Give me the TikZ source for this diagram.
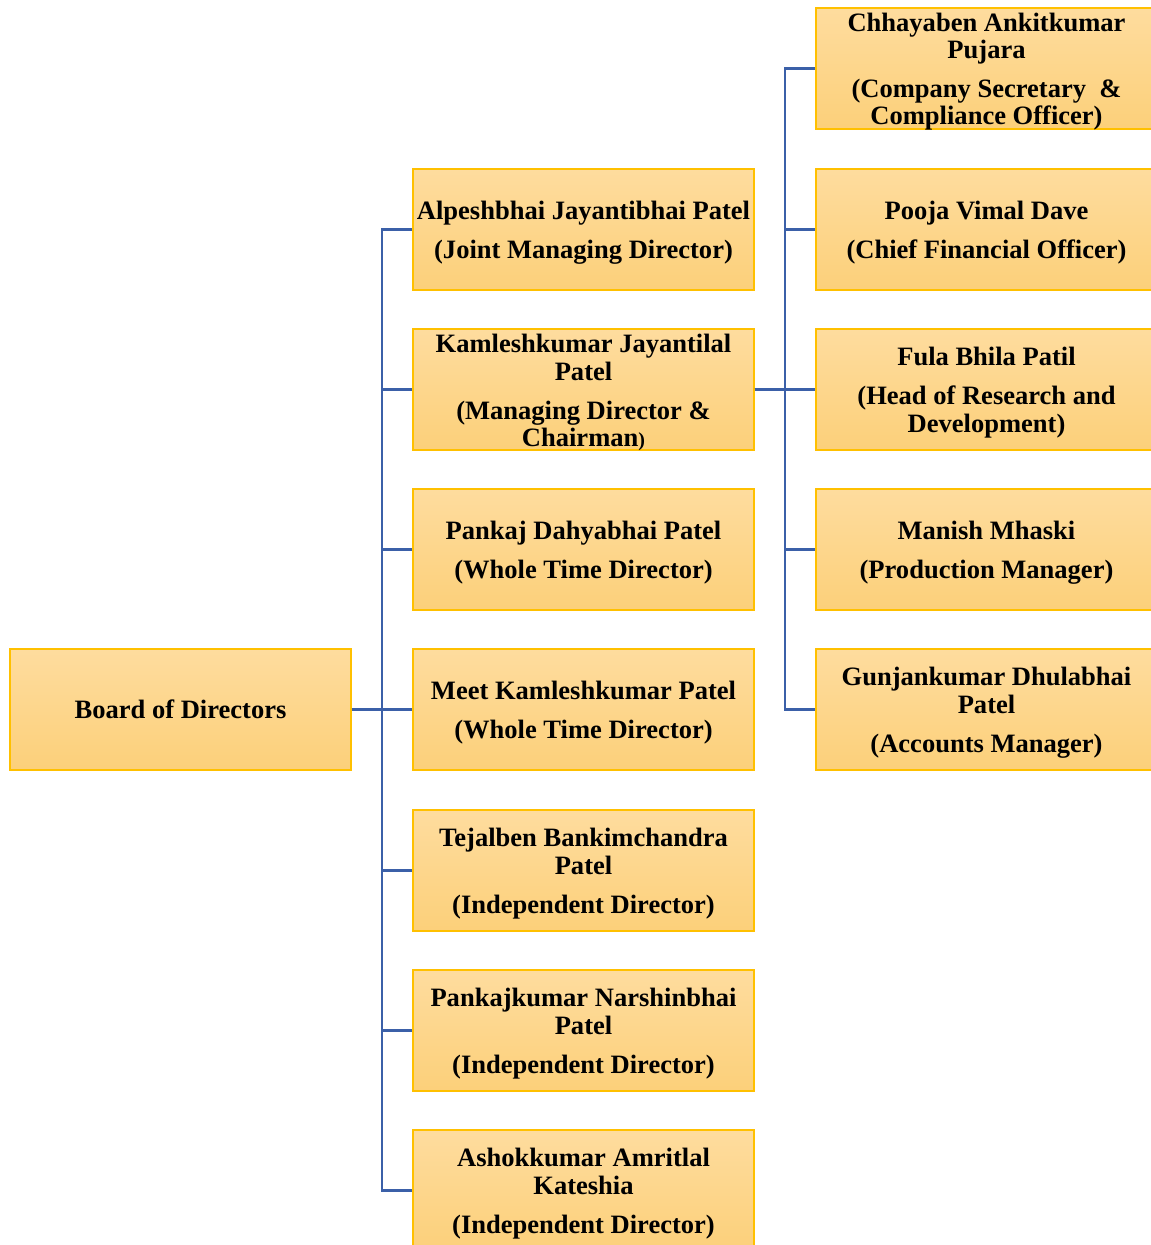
\documentclass[tikz,border=0pt]{standalone}
\usepackage{fontspec}
\setmainfont{Liberation Serif}
\definecolor{boxtop}{RGB}{254,220,158}
\definecolor{boxbot}{RGB}{252,208,122}
\definecolor{boxline}{RGB}{255,192,0}
\definecolor{conn}{RGB}{59,96,168}
\tikzset{
  orgbox/.style={rectangle, draw=boxline, line width=0.9pt, top color=boxtop, bottom color=boxbot,
    minimum width=255.75pt, minimum height=90.75pt, inner sep=0pt},
  orgtext/.style={inner sep=0pt, align=center, font=\fontsize{19.9}{20.6}\selectfont\bfseries},
  connline/.style={draw=conn, line width=1.9pt},
  stubline/.style={draw=conn, line width=2.8pt}
}
\newcommand{\pgap}{\\[8.6pt]}
\newcommand{\orgnode}[5][-2.3pt]{%
  \node[orgbox] (#2) at (#3,#4) {};
  \node[orgtext] (#2t) at ([yshift=#1]#2.center) {#5};
}
\begin{document}
\begin{tikzpicture}[x=0.75pt,y=-0.75pt]
\useasboundingbox (0,0) rectangle (1151,1245);
\clip (0,0) rectangle (1151,1245);
% board
\orgnode[0pt]{board}{180.5}{709.5}{Board of Directors}
% middle column
\orgnode{m1}{583.5}{229.5}{Alpeshbhai Jayantibhai Patel\pgap(Joint Managing Director)}
\orgnode{m2}{583.5}{389.5}{Kamleshkumar Jayantilal\\Patel\pgap(Managing Director \&\\Chairman{\fontsize{15}{15}\selectfont)}}
\orgnode{m3}{583.5}{549.5}{Pankaj Dahyabhai Patel\pgap(Whole Time Director)}
\orgnode{m4}{583.5}{709.5}{Meet Kamleshkumar Patel\pgap(Whole Time Director)}
\orgnode{m5}{583.5}{870.5}{Tejalben Bankimchandra\\Patel\pgap(Independent Director)}
\orgnode{m6}{583.5}{1030.5}{Pankajkumar Narshinbhai\\Patel\pgap(Independent Director)}
\orgnode{m7}{583.5}{1190.5}{Ashokkumar Amritlal\\Kateshia\pgap(Independent Director)}
% right column
\orgnode{r1}{986.5}{68.5}{Chhayaben Ankitkumar\\Pujara\pgap(Company Secretary\ \ \&\\Compliance Officer)}
\orgnode{r2}{986.5}{229.5}{Pooja Vimal Dave\pgap(Chief Financial Officer)}
\orgnode{r3}{986.5}{389.5}{Fula Bhila Patil\pgap(Head of Research and\\Development)}
\orgnode{r4}{986.5}{549.5}{Manish Mhaski\pgap(Production Manager)}
\orgnode{r5}{986.5}{709.5}{Gunjankumar Dhulabhai\\Patel\pgap(Accounts Manager)}
% connectors
\coordinate (ta) at (382,709.5);
\coordinate (tb) at (785,389.5);
\foreach \m in {m1,m2,m3,m4,m5,m6,m7}{
  \draw[connline] (ta) |- (\m.west);
}
\draw[stubline] (board.east) -- (ta);
\foreach \r in {r1,r2,r3,r4,r5}{
  \draw[connline] (m2.east) -- (tb) |- (\r.west);
}
\end{tikzpicture}
\end{document}
